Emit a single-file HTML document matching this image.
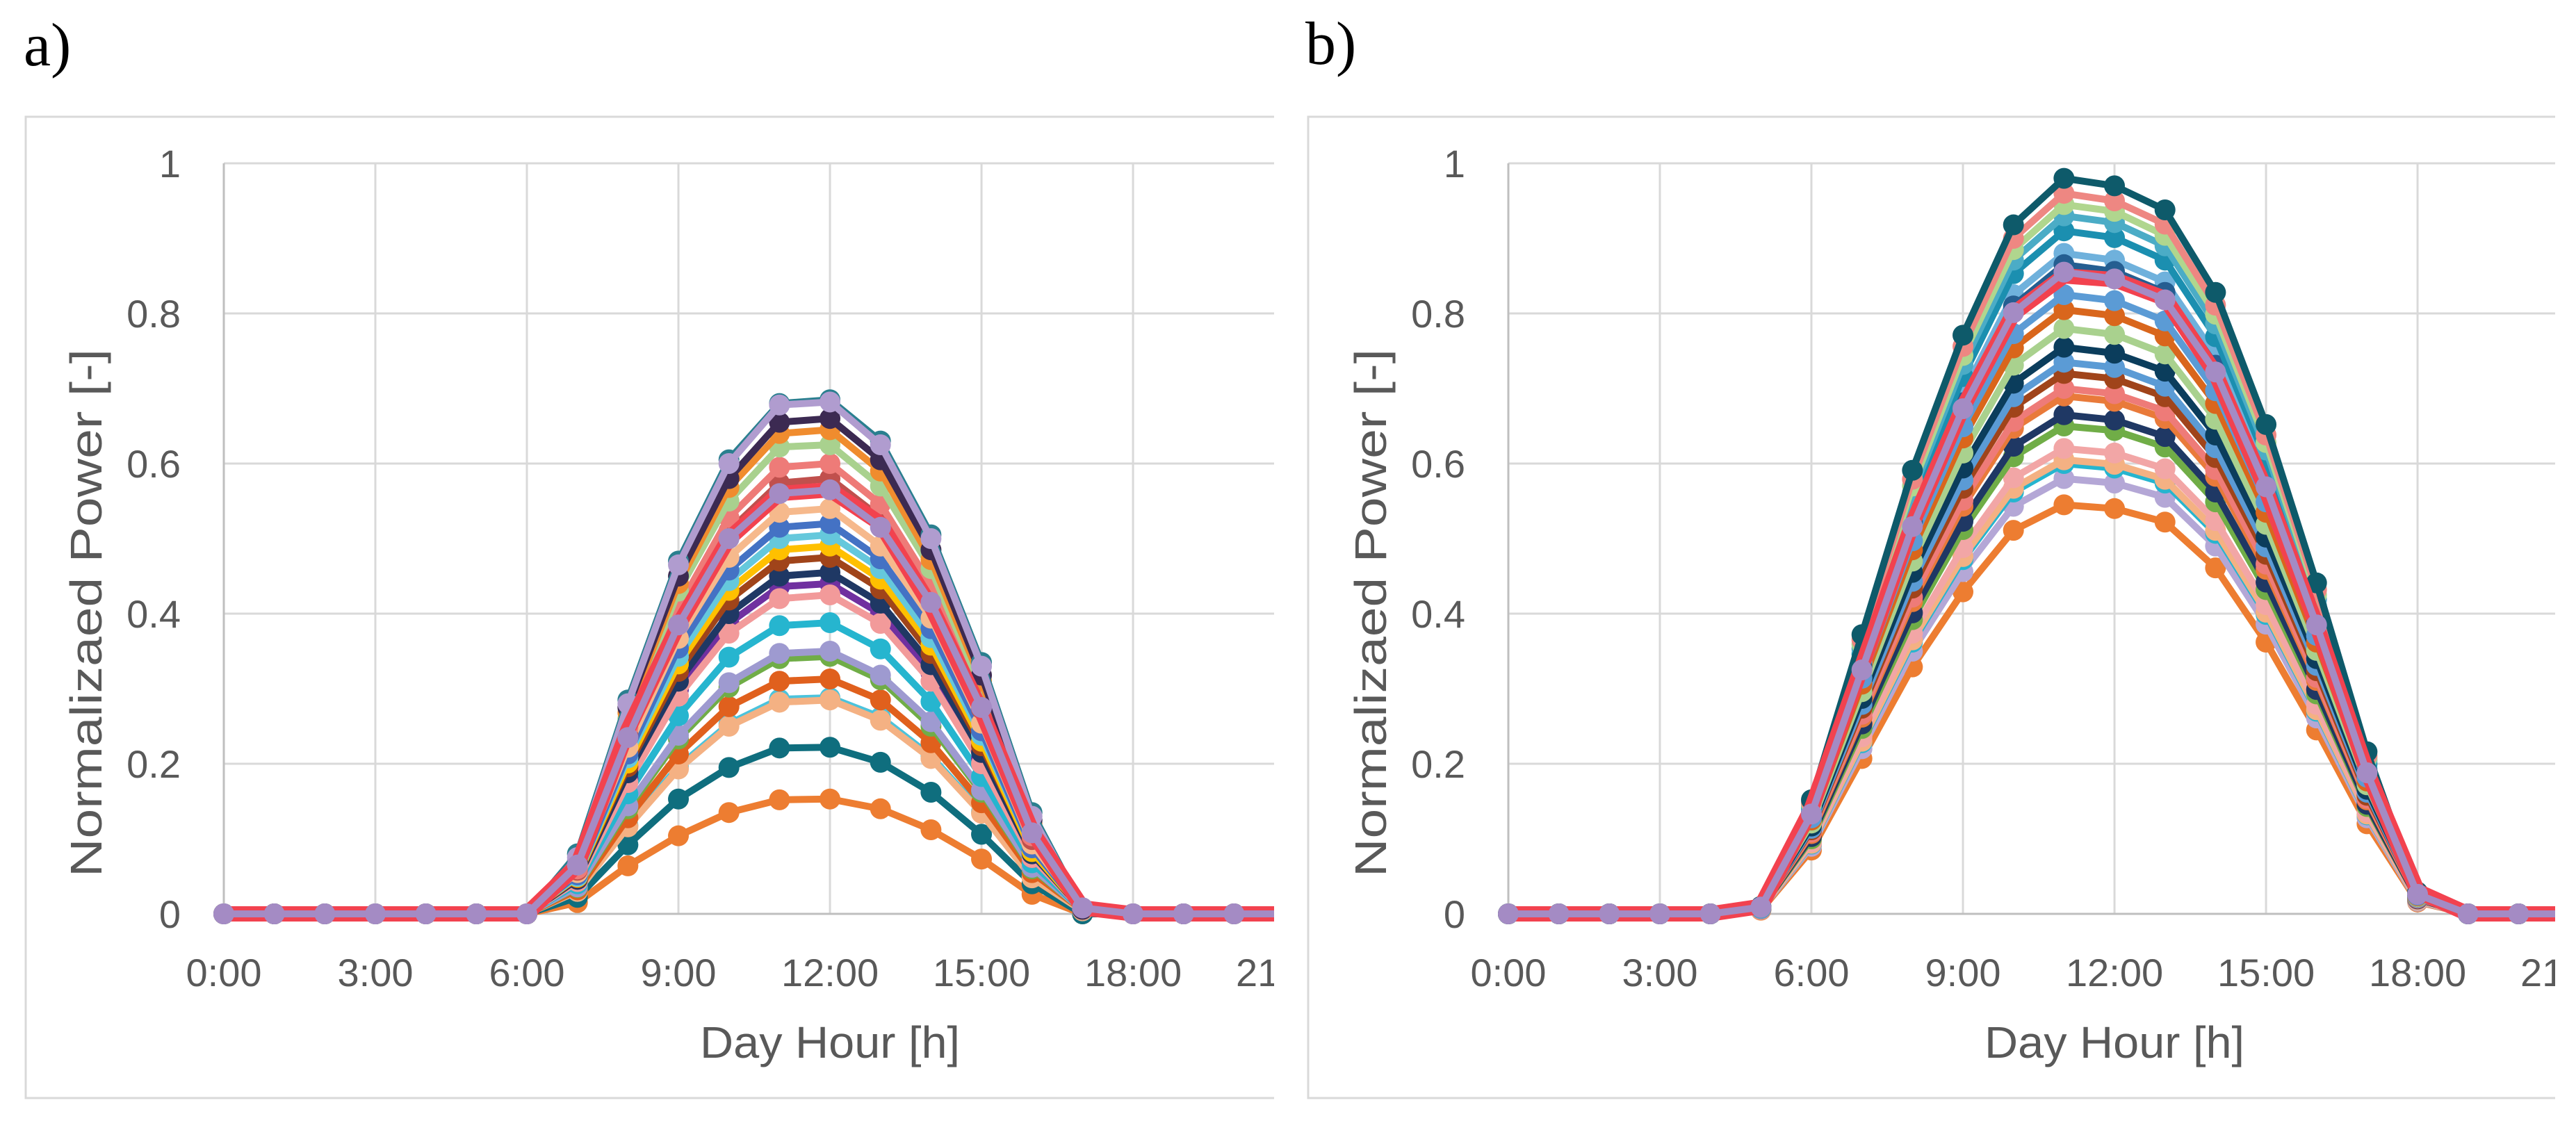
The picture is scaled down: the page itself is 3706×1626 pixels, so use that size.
<!DOCTYPE html>
<html><head><meta charset="utf-8">
<style>
html,body{margin:0;padding:0;background:#fff;}
svg{display:block;}
text{font-family:"Liberation Sans",sans-serif;fill:#595959;}
.lbl{font-family:"Liberation Serif",serif;fill:#000;}
</style></head>
<body>
<svg id="fig" width="3706" height="1626" viewBox="0 0 3706 1626" xmlns="http://www.w3.org/2000/svg">
<text class="lbl" x="34" y="94" font-size="88">a)</text>
<text class="lbl" x="1878" y="92" font-size="88">b)</text>
<defs>
<clipPath id="clipA"><rect x="0" y="0" width="1833" height="1626"/></clipPath>
<clipPath id="clipB"><rect x="1860" y="0" width="1816" height="1626"/></clipPath>
</defs>
<g id="panelA" clip-path="url(#clipA)"></g>
<g id="panelB" clip-path="url(#clipB)"></g>
</svg>
<script>
const hourTicks = [0,3,6,9,12,15,18,21];
const hourTickLabels = ["0:00","3:00","6:00","9:00","12:00","15:00","18:00","21:00"];
const yTicks = [0,0.2,0.4,0.6,0.8,1];
const yTickLabels = ["0","0.2","0.4","0.6","0.8","1"];
const hours = [0,1,2,3,4,5,6,7,8,9,10,11,12,13,14,15,16,17,18,19,20,21,22,23];

const colorsA = ["#ed7d31","#0f6e7e","#4bc3dc","#f4b183","#e0601d","#70ad47","#9e9ad0","#26b5cf","#7030a0","#f29a9a","#1f3864","#a0441a","#ffc000","#65c8dc","#4472c4","#f6b98c","#c0504d","#ee7b78","#a9d18e","#f08c2e","#3c2a52","#2a7f8f","#b09ccf","#f2424f","#a48bc4"];
const widthsA = [10,10,10,10,10,10,10,10,10,10,10,10,10,10,10,10,10,10,10,10,10,10,10,22,10];
const seriesA = [
[0,0,0,0,0,0,0,0.015,0.064,0.104,0.135,0.152,0.153,0.14,0.112,0.073,0.026,0,0,0,0,0,0,0],
[0,0,0,0,0,0,0,0.022,0.092,0.153,0.195,0.221,0.222,0.202,0.162,0.106,0.04,0,0,0,0,0,0,0],
[0,0,0,0,0,0,0,0.03,0.118,0.196,0.253,0.286,0.288,0.262,0.21,0.136,0.05,0.005,0,0,0,0,0,0],
[0,0,0,0,0,0,0,0.03,0.116,0.193,0.25,0.282,0.285,0.258,0.207,0.134,0.048,0.004,0,0,0,0,0,0],
[0,0,0,0,0,0,0,0.032,0.128,0.213,0.276,0.31,0.313,0.285,0.228,0.148,0.055,0.005,0,0,0,0,0,0],
[0,0,0,0,0,0,0,0.035,0.14,0.233,0.302,0.34,0.343,0.312,0.25,0.162,0.06,0.005,0,0,0,0,0,0],
[0,0,0,0,0,0,0,0.036,0.144,0.238,0.308,0.347,0.35,0.318,0.256,0.165,0.062,0.005,0,0,0,0,0,0],
[0,0,0,0,0,0,0,0.04,0.16,0.264,0.342,0.384,0.388,0.353,0.283,0.183,0.068,0.005,0,0,0,0,0,0],
[0,0,0,0,0,0,0,0.044,0.18,0.299,0.387,0.436,0.44,0.4,0.321,0.207,0.075,0.005,0,0,0,0,0,0],
[0,0,0,0,0,0,0,0.043,0.175,0.29,0.374,0.42,0.425,0.387,0.31,0.2,0.075,0.005,0,0,0,0,0,0],
[0,0,0,0,0,0,0,0.046,0.188,0.31,0.4,0.45,0.455,0.414,0.332,0.215,0.08,0.005,0,0,0,0,0,0],
[0,0,0,0,0,0,0,0.048,0.196,0.323,0.418,0.47,0.475,0.433,0.347,0.224,0.084,0.005,0,0,0,0,0,0],
[0,0,0,0,0,0,0,0.049,0.201,0.333,0.431,0.485,0.49,0.446,0.358,0.23,0.083,0.005,0,0,0,0,0,0],
[0,0,0,0,0,0,0,0.05,0.208,0.343,0.444,0.5,0.505,0.46,0.368,0.238,0.088,0.005,0,0,0,0,0,0],
[0,0,0,0,0,0,0,0.052,0.213,0.354,0.458,0.515,0.52,0.473,0.38,0.244,0.088,0.005,0,0,0,0,0,0],
[0,0,0,0,0,0,0,0.055,0.222,0.367,0.475,0.535,0.54,0.49,0.394,0.254,0.093,0.005,0,0,0,0,0,0],
[0,0,0,0,0,0,0,0.058,0.238,0.394,0.51,0.574,0.58,0.528,0.423,0.273,0.099,0.006,0,0,0,0,0,0],
[0,0,0,0,0,0,0,0.06,0.248,0.408,0.528,0.595,0.6,0.546,0.438,0.283,0.104,0.006,0,0,0,0,0,0],
[0,0,0,0,0,0,0,0.065,0.26,0.43,0.55,0.622,0.625,0.57,0.46,0.3,0.115,0.006,0,0,0,0,0,0],
[0,0,0,0,0,0,0,0.068,0.268,0.44,0.568,0.64,0.645,0.59,0.472,0.31,0.12,0.006,0,0,0,0,0,0],
[0,0,0,0,0,0,0,0.07,0.275,0.45,0.58,0.655,0.66,0.605,0.485,0.318,0.125,0.006,0,0,0,0,0,0],
[0,0,0,0,0,0,0,0.08,0.285,0.47,0.605,0.68,0.685,0.63,0.505,0.335,0.135,0.008,0,0,0,0,0,0],
[0,0,0,0,0,0,0,0.075,0.28,0.465,0.6,0.678,0.682,0.625,0.5,0.33,0.13,0.008,0,0,0,0,0,0],
[0,0,0,0,0,0,0,0.065,0.245,0.385,0.5,0.56,0.565,0.52,0.41,0.27,0.11,0.008,0,0,0,0,0,0],
[0,0,0,0,0,0,0,0.065,0.235,0.385,0.5,0.56,0.565,0.515,0.415,0.275,0.108,0.008,0,0,0,0,0,0]
];

const colorsB = ["#ed7d31","#b4a7d6","#26b5cf","#f4b183","#f2a6a6","#70ad47","#1f3864","#e97a3a","#ee7b78","#a0441a","#5b9bd5","#0b3d5c","#a9d18e","#d9661c","#5b9bd5","#6fb1dc","#255e91","#1b8fb0","#4bacc6","#b0d68e","#ee8782","#0e5a6a","#f2424f","#a48bc4"];
const widthsB = [10,10,10,10,10,10,10,10,10,10,10,10,10,10,10,10,10,10,10,10,10,10,22,10];
const seriesB = [
[0,0,0,0,0,0.005,0.085,0.207,0.329,0.429,0.511,0.545,0.54,0.522,0.461,0.362,0.245,0.12,0.016,0,0,0,0,0],
[0,0,0,0,0,0.006,0.09,0.22,0.35,0.456,0.543,0.58,0.574,0.555,0.49,0.386,0.261,0.128,0.017,0,0,0,0,0],
[0,0,0,0,0,0.006,0.093,0.228,0.362,0.472,0.562,0.6,0.594,0.574,0.507,0.399,0.27,0.132,0.018,0,0,0,0,0],
[0,0,0,0,0,0.006,0.094,0.23,0.365,0.476,0.567,0.605,0.599,0.579,0.511,0.402,0.272,0.133,0.018,0,0,0,0,0],
[0,0,0,0,0,0.006,0.096,0.236,0.374,0.488,0.581,0.62,0.614,0.593,0.524,0.412,0.279,0.136,0.019,0,0,0,0,0],
[0,0,0,0,0,0.007,0.1,0.247,0.392,0.512,0.609,0.65,0.644,0.622,0.549,0.432,0.293,0.143,0.02,0,0,0,0,0],
[0,0,0,0,0,0.007,0.103,0.253,0.401,0.523,0.623,0.665,0.658,0.636,0.562,0.442,0.299,0.146,0.02,0,0,0,0,0],
[0,0,0,0,0,0.007,0.107,0.262,0.416,0.543,0.647,0.69,0.683,0.66,0.583,0.459,0.311,0.152,0.021,0,0,0,0,0],
[0,0,0,0,0,0.007,0.109,0.266,0.422,0.551,0.656,0.7,0.693,0.67,0.592,0.466,0.315,0.154,0.021,0,0,0,0,0],
[0,0,0,0,0,0.007,0.112,0.274,0.434,0.567,0.675,0.72,0.713,0.689,0.608,0.479,0.324,0.158,0.022,0,0,0,0,0],
[0,0,0,0,0,0.007,0.114,0.279,0.443,0.578,0.689,0.735,0.728,0.703,0.621,0.489,0.331,0.162,0.022,0,0,0,0,0],
[0,0,0,0,0,0.008,0.117,0.287,0.455,0.594,0.707,0.755,0.747,0.723,0.638,0.502,0.34,0.166,0.023,0,0,0,0,0],
[0,0,0,0,0,0.008,0.121,0.296,0.47,0.614,0.731,0.78,0.772,0.746,0.659,0.519,0.351,0.172,0.023,0,0,0,0,0],
[0,0,0,0,0,0.008,0.125,0.306,0.485,0.634,0.754,0.805,0.797,0.77,0.68,0.535,0.362,0.177,0.024,0,0,0,0,0],
[0,0,0,0,0,0.008,0.128,0.314,0.497,0.649,0.773,0.825,0.817,0.79,0.697,0.549,0.371,0.182,0.025,0,0,0,0,0],
[0,0,0,0,0,0.009,0.136,0.334,0.531,0.693,0.825,0.88,0.871,0.842,0.744,0.585,0.396,0.194,0.026,0,0,0,0,0],
[0,0,0,0,0,0.009,0.134,0.329,0.522,0.681,0.81,0.865,0.856,0.828,0.731,0.575,0.389,0.19,0.026,0,0,0,0,0],
[0,0,0,0,0,0.009,0.141,0.346,0.549,0.716,0.853,0.91,0.901,0.871,0.769,0.605,0.41,0.2,0.027,0,0,0,0,0],
[0,0,0,0,0,0.009,0.144,0.353,0.561,0.732,0.871,0.93,0.921,0.89,0.786,0.618,0.419,0.205,0.028,0,0,0,0,0],
[0,0,0,0,0,0.009,0.146,0.359,0.57,0.744,0.885,0.945,0.936,0.904,0.799,0.628,0.425,0.208,0.028,0,0,0,0,0],
[0,0,0,0,0,0.01,0.149,0.365,0.579,0.756,0.9,0.96,0.95,0.919,0.811,0.638,0.432,0.211,0.029,0,0,0,0,0],
[0,0,0,0,0,0.01,0.152,0.372,0.591,0.771,0.918,0.98,0.97,0.938,0.828,0.652,0.441,0.216,0.029,0,0,0,0,0],
[0,0,0,0,0,0.01,0.14,0.33,0.52,0.675,0.8,0.85,0.845,0.82,0.72,0.565,0.385,0.19,0.03,0,0,0,0,0],
[0,0,0,0,0,0.009,0.133,0.325,0.516,0.673,0.801,0.855,0.846,0.818,0.722,0.569,0.385,0.188,0.026,0,0,0,0,0]
];

const NS = "http://www.w3.org/2000/svg";
function mk(tag, attrs, parent){
  const e = document.createElementNS(NS, tag);
  for (const k in attrs) e.setAttribute(k, attrs[k]);
  parent.appendChild(e);
  return e;
}

function drawPanel(g, frame, plotLeft, series, colors, widths, prefix){
  const plotTop = 235, plotBottom = 1315, pxPerHour = 72.67;
  const xScale = h => plotLeft + h * pxPerHour;
  const yScale = v => plotBottom - v * (plotBottom - plotTop);

  const border = mk('rect', {x:frame.x, y:168, width:frame.w, height:1412, fill:'none', stroke:'#d9d9d9', 'stroke-width':3}, g);
  
  

  yTicks.forEach((t, i) => {
    const y = yScale(t);
    if (t > 0) {
      const gl = mk('line', {x1:plotLeft, x2:plotLeft + 24*pxPerHour, y1:y, y2:y, stroke:'#d9d9d9', 'stroke-width':3}, g);
      
      
    }
    const tl = mk('text', {x:plotLeft - 62, y:y + 20, 'font-size':56, 'text-anchor':'end'}, g);
    tl.textContent = yTickLabels[i];
    
    
  });
  hourTicks.forEach((h, i) => {
    const x = xScale(h);
    const gl = mk('line', {x1:x, x2:x, y1:plotTop, y2:plotBottom, stroke: h === 0 ? '#bfbfbf' : '#d9d9d9', 'stroke-width':3}, g);
    
    
    const tl = mk('text', {x:x, y:1419, 'font-size':56, 'text-anchor':'middle'}, g);
    tl.textContent = hourTickLabels[i];
    
    
  });
  const ax = mk('line', {x1:plotLeft, x2:plotLeft + 24*pxPerHour, y1:plotBottom, y2:plotBottom, stroke:'#bfbfbf', 'stroke-width':3}, g);
  
  

  const yt = mk('text', {x:0, y:0, 'font-size':64, 'text-anchor':'middle', textLength:760, lengthAdjust:'spacingAndGlyphs', transform:'translate(' + (plotLeft - 176) + ',882) rotate(-90)'}, g);
  yt.textContent = 'Normalizaed Power [-]';
  
  
  const xt = mk('text', {x:xScale(12), y:1522, 'font-size':64, 'text-anchor':'middle', textLength:374, lengthAdjust:'spacingAndGlyphs'}, g);
  xt.textContent = 'Day Hour [h]';
  
  

  series.forEach((vals, si) => {
    const sg = mk('g', {}, g);
    
    
    const pts = vals.map((v, i) => xScale(hours[i]) + ',' + yScale(v)).join(' ');
    const pl = mk('polyline', {points:pts, fill:'none', stroke:colors[si], 'stroke-width':widths[si], 'stroke-linejoin':'round'}, sg);
    
    
    if (widths[si] < 20) {
      vals.forEach((v, i) => {
        const c = mk('circle', {cx:xScale(hours[i]), cy:yScale(v), r:15, fill:colors[si]}, sg);
        
        
      });
    }
  });
}

drawPanel(document.getElementById('panelA'), {x:37, w:1900}, 322, seriesA, colorsA, widthsA, 'panel-a');
drawPanel(document.getElementById('panelB'), {x:1882, w:1900}, 2170, seriesB, colorsB, widthsB, 'panel-b');
</script>
</body></html>
